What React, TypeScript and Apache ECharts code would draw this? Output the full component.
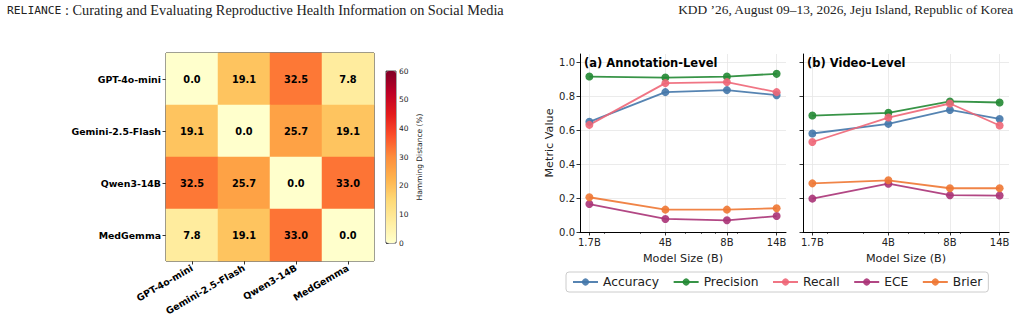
import React, { useEffect, useRef } from "react";
import * as echarts from "echarts";

const models = ["GPT-4o-mini", "Gemini-2.5-Flash", "Qwen3-14B", "MedGemma"];
const hammingRows = [
  [0.0, 19.1, 32.5, 7.8],
  [19.1, 0.0, 25.7, 19.1],
  [32.5, 25.7, 0.0, 33.0],
  [7.8, 19.1, 33.0, 0.0],
];

const modelSizes = [1.7, 4, 8, 14];
const sizeLabels = ["1.7B", "4B", "8B", "14B"];
const minorSizes = [2, 3, 5, 6, 7, 9];
const yTicks = [0, 0.2, 0.4, 0.6, 0.8, 1.0];

const metrics = ["Accuracy", "Precision", "Recall", "ECE", "Brier"];
const metricColors = ["#4477AA", "#228833", "#EE6677", "#AA3377", "#EE7733"];

const annAccuracy = [0.65, 0.825, 0.837, 0.807];
const annPrecision = [0.917, 0.911, 0.917, 0.933];
const annRecall = [0.632, 0.878, 0.884, 0.825];
const annECE = [0.165, 0.077, 0.069, 0.094];
const annBrier = [0.205, 0.132, 0.132, 0.14];

const vidAccuracy = [0.581, 0.638, 0.72, 0.667];
const vidPrecision = [0.687, 0.703, 0.77, 0.764];
const vidRecall = [0.531, 0.675, 0.758, 0.628];
const vidECE = [0.197, 0.285, 0.217, 0.215];
const vidBrier = [0.287, 0.305, 0.258, 0.258];

const annotationSeries = [annAccuracy, annPrecision, annRecall, annECE, annBrier];
const videoSeries = [vidAccuracy, vidPrecision, vidRecall, vidECE, vidBrier];

const YlOrRd = ["#ffffcc", "#ffeda0", "#fed976", "#feb24c", "#fd8d3c", "#fc4e2a", "#e31a1c", "#bd0026", "#800026"];

const FONT = "DejaVu Sans";

export default function App() {
  const ref = useRef<HTMLDivElement>(null);
  useEffect(() => {
    if (!ref.current) return;
    const chart = echarts.init(ref.current, undefined, { renderer: "svg" });

    const heatData: any[] = [];
    hammingRows.forEach((row, r) => row.forEach((v, c) => heatData.push([c, r, v])));

    const lineGrids = [
      { left: 580, top: 54, width: 206, height: 178 },
      { left: 803, top: 54, width: 206, height: 178 },
    ];

    const xAxes: any[] = [
      {
        type: "category", gridIndex: 0, data: models,
        axisLine: { show: false },
        axisTick: { show: true, alignWithLabel: true, length: 3.5, lineStyle: { color: "#000", width: 0.8 } },
        axisLabel: { rotate: 30, fontFamily: FONT, fontWeight: "bold", fontSize: 9.4, color: "#000", margin: 6 },
        splitLine: { show: false },
      },
      { type: "value", gridIndex: 1, show: false, min: 0, max: 1 },
    ];
    const yAxes: any[] = [
      {
        type: "category", gridIndex: 0, data: models, inverse: true,
        axisLine: { show: false },
        axisTick: { show: true, alignWithLabel: true, length: 3.5, lineStyle: { color: "#000", width: 0.8 } },
        axisLabel: { fontFamily: FONT, fontWeight: "bold", fontSize: 9.4, color: "#000", margin: 5 },
        splitLine: { show: false },
      },
      {
        type: "value", gridIndex: 1, position: "right", min: 0, max: 60, interval: 10,
        axisLine: { show: false },
        axisTick: { show: true, length: 2.5, lineStyle: { color: "#222", width: 0.7 } },
        axisLabel: { fontFamily: FONT, fontSize: 7.5, color: "#222", margin: 3 },
        splitLine: { show: false },
        name: "Hamming Distance (%)", nameLocation: "middle", nameRotate: 90, nameGap: 19,
        nameTextStyle: { fontFamily: FONT, fontSize: 7.5, color: "#222" },
      },
    ];

    lineGrids.forEach((_, i) => {
      const gi = i + 2;
      xAxes.push({
        type: "log", logBase: 10, gridIndex: gi, min: 1.53, max: 15.56,
        axisLine: { show: true, lineStyle: { color: "#000", width: 1 } },
        axisTick: { show: true, customValues: modelSizes, length: 3.5, lineStyle: { color: "#000", width: 0.8 } },
        axisLabel: {
          customValues: modelSizes, fontFamily: FONT, fontSize: 10, color: "#222", margin: 5,
          formatter: (v: number) => sizeLabels[modelSizes.findIndex((m) => Math.abs(m - v) < 1e-6)] ?? "",
        },
        splitLine: { show: true, lineStyle: { color: "#e6e6e6", width: 0.8 } },
        name: "Model Size (B)", nameLocation: "middle", nameGap: 21,
        nameTextStyle: { fontFamily: FONT, fontSize: 11.2, color: "#222" },
      });
      xAxes.push({
        type: "log", logBase: 10, gridIndex: gi, min: 1.53, max: 15.56, position: "bottom",
        axisLine: { show: false },
        axisTick: { show: true, customValues: minorSizes, length: 2, lineStyle: { color: "#000", width: 0.6 } },
        axisLabel: { show: false },
        splitLine: { show: false },
      });
      yAxes.push({
        type: "value", gridIndex: gi, min: 0, max: 1.05,
        axisLine: { show: true, lineStyle: { color: "#000", width: 1 } },
        axisTick: { show: true, customValues: yTicks, length: 3.5, lineStyle: { color: "#000", width: 0.8 } },
        axisLabel: {
          show: i === 0, customValues: yTicks, fontFamily: FONT, fontSize: 10, color: "#222", margin: 5,
          formatter: (v: number) => v.toFixed(1),
        },
        splitLine: { show: true, lineStyle: { color: "#e6e6e6", width: 0.8 } },
        name: i === 0 ? "Metric Value" : "", nameLocation: "middle", nameGap: 25,
        nameTextStyle: { fontFamily: FONT, fontSize: 11.2, color: "#222" },
      });
    });

    const series: any[] = [
      {
        type: "heatmap", xAxisIndex: 0, yAxisIndex: 0, data: heatData,
        label: {
          show: true, fontFamily: FONT, fontWeight: "bold", fontSize: 9.8, color: "#000",
          formatter: (p: any) => p.value[2].toFixed(1),
        },
        itemStyle: { borderWidth: 0 },
        emphasis: { disabled: true },
      },
    ];
    [annotationSeries, videoSeries].forEach((set, pi) => {
      set.forEach((vals, mi) => {
        series.push({
          type: "line", name: metrics[mi],
          xAxisIndex: 2 + pi * 2, yAxisIndex: 2 + pi,
          data: modelSizes.map((s, k) => [s, vals[k]]),
          symbol: "circle", symbolSize: 8,
          lineStyle: { width: 1.8, color: metricColors[mi], opacity: 0.9 },
          itemStyle: { color: metricColors[mi], opacity: 0.9 },
          emphasis: { disabled: true },
        });
      });
    });

    chart.setOption({
      animation: false,
      backgroundColor: "#fff",
      textStyle: { fontFamily: FONT },
      grid: [
        { left: 166, top: 53, width: 208, height: 208, show: true, borderColor: "#000", borderWidth: 1, backgroundColor: "transparent" },
        { left: 386, top: 71, width: 10, height: 172, show: true, borderColor: "#222", borderWidth: 0.8, backgroundColor: "transparent" },
        { ...lineGrids[0] },
        { ...lineGrids[1] },
      ],
      xAxis: xAxes,
      yAxis: yAxes,
      visualMap: {
        type: "continuous", seriesIndex: 0, min: 0, max: 60,
        left: 386, top: 71, itemWidth: 10, itemHeight: 172, padding: 0,
        calculable: false, hoverLink: false, orient: "vertical",
        inRange: { color: YlOrRd },
        z: 1,
      },
      legend: {
        data: metrics, top: 272, left: 566,
        itemWidth: 25, itemHeight: 9, itemGap: 13.5,
        borderColor: "#cccccc", borderWidth: 1, borderRadius: 3, padding: [4, 6, 4, 6],
        textStyle: { fontFamily: FONT, fontSize: 12.3, color: "#222" },
      },
      title: [
        { text: "(a) Annotation-Level", left: 584, top: 57, padding: 0, textStyle: { fontFamily: FONT, fontWeight: "bold", fontSize: 11.5, color: "#000" } },
        { text: "(b) Video-Level", left: 807, top: 57, padding: 0, textStyle: { fontFamily: FONT, fontWeight: "bold", fontSize: 11.5, color: "#000" } },
      ],
      graphic: [
        {
          type: "text", left: 7, top: 3,
          style: {
            text: "{m|RELIANCE}{s| : Curating and Evaluating Reproductive Health Information on Social Media}",
            rich: {
              m: { fontFamily: "DejaVu Sans Mono", fontSize: 11.3, fill: "#222" },
              s: { fontFamily: "Liberation Serif", fontSize: 14.3, fill: "#222" },
            },
          },
        },
        {
          type: "text", right: 8, top: 3,
          style: { text: "KDD \u201926, August 09\u201313, 2026, Jeju Island, Republic of Korea", fontFamily: "Liberation Serif", fontSize: 13.4, fill: "#222" },
        },
      ],
      series,
    });
    return () => chart.dispose();
  }, []);
  return (
    <div
      ref={ref}
      style={{ position: "absolute", left: 0, top: 0, width: 1022, height: 323, background: "#fff" }}
    />
  );
}
